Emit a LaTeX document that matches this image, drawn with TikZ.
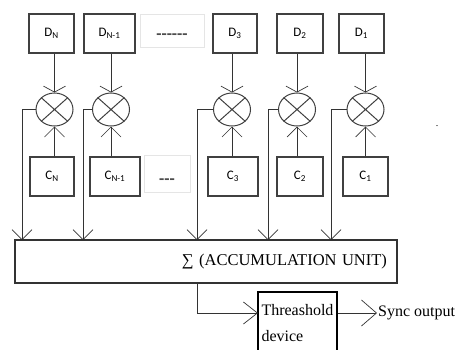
\documentclass[tikz,border=0pt]{standalone}
\usepackage{fontspec}
\setmainfont{Liberation Serif}
\newfontfamily\calibri{Carlito}
\usetikzlibrary{arrows.meta,shapes.geometric}

\begin{document}
\begin{tikzpicture}[x=1pt, y=-1pt,
    box/.style={draw=black!75, line width=1.2pt, inner sep=0pt, minimum height=39pt,
      font=\calibri\fontsize{13}{15}\selectfont},
    ghost/.style={draw=black!10, line width=0.8pt, inner sep=0pt,
      font=\calibri\bfseries\fontsize{17}{18}\selectfont, text=black!70},
    mixer/.style={draw=black!75, line width=1pt, ellipse, minimum width=37pt,
      minimum height=33pt, inner sep=0pt},
    wire/.style={black!80, line width=0.9pt},
    barb/.style={wire, -{Straight Barb[length=10pt,width=20pt,line width=0.7pt]}},
    flatbarb/.style={wire, -{Straight Barb[length=6pt,width=22pt,line width=0.7pt]}}]
                \useasboundingbox (0,0) rectangle (460,349);

                % Define the coordinates
                \coordinate (inN) at (22,240);
                \coordinate (inNm1) at (83,240);
                \coordinate (in3) at (197,240);
                \coordinate (in2) at (268,240);
                \coordinate (in1) at (331,240);
                \coordinate (tin) at (258,313);
                \coordinate (out) at (377,313);

                % Draw the data boxes
                \node[box, minimum width=45pt] (dN) at (51.5,33.5) {D\textsubscript{N}};
                \node[box, minimum width=51pt] (dNm1) at (109.5,33.5) {D\textsubscript{N-1}};
                \node[ghost, minimum width=64pt, minimum height=33pt] (dgap) at (172,30.5)
                  {\smash{\raisebox{-8.5pt}{------}}};
                \node[box, minimum width=44pt] (d3) at (235,33.5) {D\textsubscript{3}};
                \node[box, minimum width=46pt] (d2) at (300,33.5) {D\textsubscript{2}};
                \node[box, minimum width=45pt] (d1) at (361.5,33.5) {D\textsubscript{1}};

                % Draw the code boxes
                \node[box, minimum width=44pt] (cN) at (52,176.5) {C\textsubscript{N}};
                \node[box, minimum width=50pt] (cNm1) at (115,176.5) {C\textsubscript{N-1}};
                \node[ghost, minimum width=46pt, minimum height=37pt] (cgap) at (167,173.5)
                  {\smash{\raisebox{-10.5pt}{---}}};
                \node[box, minimum width=50pt] (c3) at (233,176.5) {C\textsubscript{3}};
                \node[box, minimum width=46pt] (c2) at (300,176.5) {C\textsubscript{2}};
                \node[box, minimum width=45pt] (c1) at (365.5,176.5) {C\textsubscript{1}};

                % Draw the multipliers
                \node[mixer] (mN) at (54.5,109.5) {};
                \node[mixer] (mNm1) at (111,109.5) {};
                \node[mixer] (m3) at (232,109.5) {};
                \node[mixer] (m2) at (297,109.5) {};
                \node[mixer] (m1) at (365.5,109.5) {};
                \foreach \m in {mN,mNm1,m3,m2,m1}
                  \draw[black!75, line width=1pt] (\m.north west) -- (\m.south east)
                    (\m.north east) -- (\m.south west);

                % Draw the accumulation unit and the threshold device
                \node[draw=black!80, line width=1.4pt, text width=362pt, inner sep=10pt,
                  minimum height=43pt, align=right, font=\fontsize{16.5}{18}\selectfont]
                  (acc) at (206,261.5) {∑ (ACCUMULATION UNIT)};
                \node[draw, line width=1.1pt, minimum width=79pt, minimum height=62pt,
                  align=left, font=\fontsize{16}{26}\selectfont] (thr) at (297.5,323)
                  {Threashold\\device};

                % Draw the inputs of the multipliers
                \foreach \d/\c/\m in {dN/cN/mN, dNm1/cNm1/mNm1, d3/c3/m3, d2/c2/m2, d1/c1/m1} {
                  \draw[flatbarb] (\m |- \d.south) -- (\m.north);
                  \draw[barb] (\m |- \c.north) -- (\m.south);
                }

                % Draw the products into the sum
                \draw[barb] (mN.west) -| (inN);
                \draw[barb] (mNm1.west) -| (inNm1);
                \draw[barb] (m3.west) -| (in3);
                \draw[barb] (m2.west) -| (in2);
                \draw[barb] (m1.west) -| (in1);

                % Draw the output path
                \draw[barb, -{Straight Barb[length=14pt,width=22pt,line width=0.7pt]}]
                  (acc.south -| in3) |- (tin);
                \draw[barb, -{Straight Barb[length=15pt,width=26pt,line width=0.7pt]}]
                  (thr.east |- tin) -- (out);
                \node[anchor=west, inner sep=1pt, font=\fontsize{16}{18}\selectfont]
                  (sync) at (out) {Sync output};
                \node (dot) at (437,126) {.};
\end{tikzpicture}
\end{document}
